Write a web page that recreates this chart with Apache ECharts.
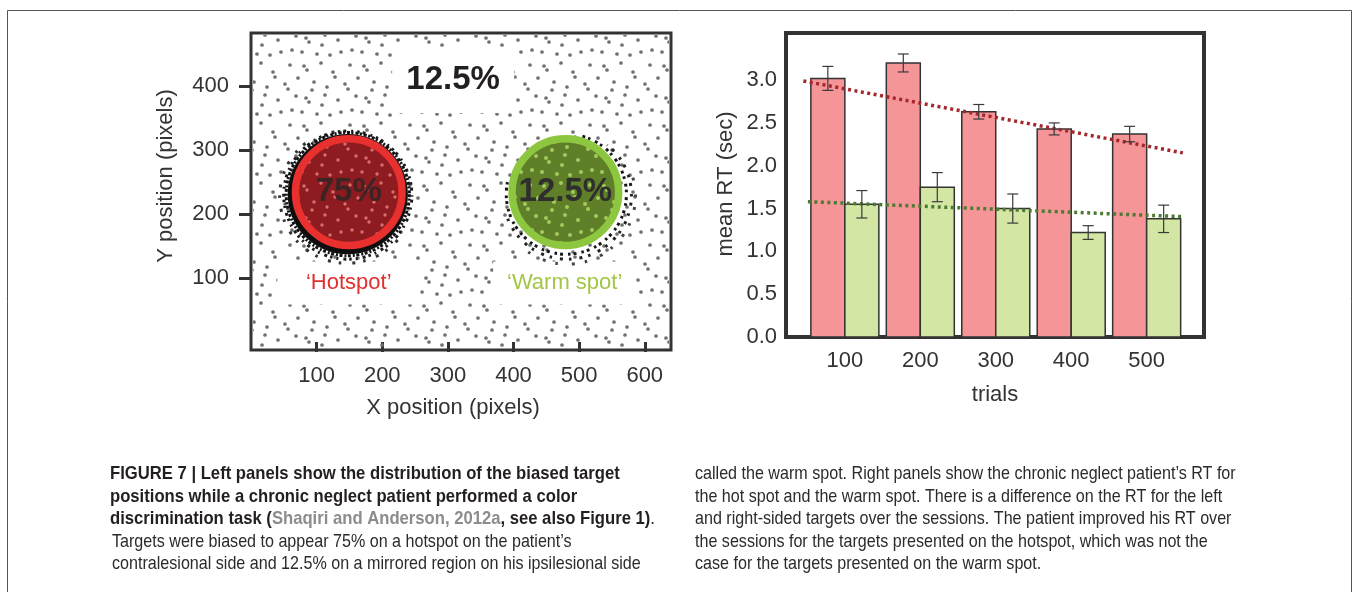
<!DOCTYPE html>
<html>
<head>
<meta charset="utf-8">
<script src="https://cdn.jsdelivr.net/npm/echarts@6/dist/echarts.min.js"></script>
<style>
  html, body { margin: 0; padding: 0; background: #fff; }
  #chart { width: 1356px; height: 592px; }
</style>
</head>
<body>
<div id="chart"></div>
<script>
// ---- left panel: target positions ----
const posXTicks = [100, 200, 300, 400, 500, 600];
const posYTicks = [100, 200, 300, 400];
const spotNames = ['Hotspot', 'Warm spot'];
const spotX = [149, 479];
const spotY = [234, 234];
const spotShare = ['75%', '12.5%'];
const spotRadius = 87; // in x pixels of the task screen
const regionLabels = ['12.5%', '\u2018Hotspot\u2019', '\u2018Warm spot\u2019'];
const regionLabelX = [308, 149, 478];
const regionLabelY = [409, 92, 92];

// ---- right panel: mean RT ----
const trials = [100, 200, 300, 400, 500];
const hotRT = [3.02, 3.20, 2.63, 2.43, 2.37];
const hotErr = [0.14, 0.105, 0.085, 0.07, 0.09];
const warmRT = [1.55, 1.75, 1.50, 1.22, 1.38];
const warmErr = [0.16, 0.17, 0.17, 0.08, 0.16];
const hotTrend = [[45, 2.99], [548, 2.15]];
const warmTrend = [[51, 1.58], [548, 1.405]];
const rtTicks = [0, 0.5, 1, 1.5, 2, 2.5, 3];

const FONT = "'Liberation Sans', Arial, sans-serif";
const barPx = 34;

// small dotted texture for the dense scatter of target positions
const tileDots = [[4, 6], [7, 10], [21, 3], [33, 12], [35, 17], [50, 5], [14, 22], [27, 27],
  [45, 24], [48, 29], [56, 36], [6, 38], [9, 42], [22, 45], [38, 40], [41, 52], [52, 50],
  [30, 55], [17, 54], [2, 52], [58, 18], [25, 35], [12, 30]];

function dotPattern(color, radius) {
  const c = document.createElement('canvas');
  c.width = 60;
  c.height = 60;
  const ctx = c.getContext('2d');
  ctx.fillStyle = color;
  tileDots.forEach(([x, y]) => {
    ctx.beginPath();
    ctx.arc(x, y, radius, 0, Math.PI * 2);
    ctx.fill();
  });
  return { image: c, repeat: 'repeat' };
}

const greyDots = dotPattern('#707070', 1.85);
const spotFill = ['#8e1b1f', '#5f7f28'];
const spotSpeckle = [dotPattern('rgba(236,140,140,0.75)', 1.7), dotPattern('rgba(180,220,105,0.8)', 2)];
const spotRing = ['#e8302f', '#8dc63f'];
const spotText = ['#3d2424', '#2e2e2e'];

// rows of small square dots around a spot (dense cluster of targets)
function dotRing(cx, cy, r, a0, a1, dash, offset, color) {
  return {
    type: 'arc',
    shape: { cx, cy, r, startAngle: a0, endAngle: a1, clockwise: true },
    style: { fill: 'none', stroke: color, lineWidth: 3, lineDash: dash, lineDashOffset: offset, lineCap: 'butt' }
  };
}

function barSeries(name, values, side, color) {
  return {
    type: 'custom',
    name,
    xAxisIndex: 1,
    yAxisIndex: 1,
    data: trials.map((t, i) => [t, values[i]]),
    renderItem: (params, api) => {
      const top = api.coord([api.value(0), api.value(1)]);
      const base = api.coord([api.value(0), 0]);
      const x = side < 0 ? top[0] - barPx : top[0];
      return {
        type: 'rect',
        shape: { x, y: top[1], width: barPx, height: base[1] - top[1] },
        style: { fill: color, stroke: '#333', lineWidth: 1.5 }
      };
    }
  };
}

function errSeries(values, errs, side) {
  return {
    type: 'custom',
    xAxisIndex: 1,
    yAxisIndex: 1,
    z: 5,
    data: trials.map((t, i) => [t, values[i] - errs[i], values[i] + errs[i]]),
    renderItem: (params, api) => {
      const lo = api.coord([api.value(0), api.value(1)]);
      const hi = api.coord([api.value(0), api.value(2)]);
      const cx = lo[0] + side * barPx / 2;
      const st = { stroke: '#3a3a3a', lineWidth: 1.2 };
      return {
        type: 'group',
        children: [
          { type: 'line', shape: { x1: cx, y1: lo[1], x2: cx, y2: hi[1] }, style: st },
          { type: 'line', shape: { x1: cx - 5.5, y1: hi[1], x2: cx + 5.5, y2: hi[1] }, style: st },
          { type: 'line', shape: { x1: cx - 5.5, y1: lo[1], x2: cx + 5.5, y2: lo[1] }, style: st }
        ]
      };
    }
  };
}

function trendSeries(data, color) {
  return {
    type: 'line',
    xAxisIndex: 1,
    yAxisIndex: 1,
    z: 4,
    data,
    symbol: 'none',
    lineStyle: { color, width: 3.5, type: [3, 3.5], cap: 'butt' }
  };
}

function captionText(x, y, text, bold) {
  return {
    type: 'text',
    x, y,
    scaleX: bold ? 0.9 : 0.87,
    style: {
      text,
      font: (bold ? 'bold ' : '') + '18.5px ' + FONT,
      fill: bold ? '#231f20' : '#2b2b2b',
      verticalAlign: 'middle',
      rich: {
        g: { fontWeight: 'bold', fontSize: 18.5, fontFamily: FONT, fill: '#8c8c8c' },
        r: { fontWeight: 'normal', fontSize: 18.5, fontFamily: FONT, fill: '#231f20' }
      }
    }
  };
}

const capY = [474, 496.5, 519, 541.5, 564];

const option = {
  animation: false,
  backgroundColor: '#fff',
  textStyle: { fontFamily: FONT },
  grid: [
    { left: 251, top: 33, width: 420, height: 317, show: true, borderColor: '#333', borderWidth: 3, backgroundColor: 'transparent' },
    { left: 786, top: 33, width: 418, height: 304, show: true, borderColor: '#333', borderWidth: 4, backgroundColor: 'transparent' }
  ],
  xAxis: [
    {
      type: 'value', gridIndex: 0, min: 0, max: 640,
      axisLine: { show: false },
      splitLine: { show: false },
      axisTick: { show: true, length: 10, customValues: posXTicks, lineStyle: { color: '#333', width: 3 } },
      axisLabel: { customValues: posXTicks, margin: 15, fontSize: 22, color: '#333', fontFamily: FONT }
    },
    {
      type: 'value', gridIndex: 1, min: 22, max: 576,
      axisLine: { show: false },
      splitLine: { show: false },
      axisTick: { show: false },
      axisLabel: { customValues: trials, margin: 13, fontSize: 22, color: '#333', fontFamily: FONT }
    }
  ],
  yAxis: [
    {
      type: 'value', gridIndex: 0, min: -12.5, max: 482.5,
      axisLine: { show: false },
      splitLine: { show: false },
      axisTick: { show: true, length: 12, customValues: posYTicks, lineStyle: { color: '#333', width: 3 } },
      axisLabel: { customValues: posYTicks, margin: 22, fontSize: 22, color: '#333', fontFamily: FONT }
    },
    {
      type: 'value', gridIndex: 1, min: 0, max: 3.55,
      axisLine: { show: false },
      splitLine: { show: false },
      axisTick: { show: false },
      axisLabel: {
        customValues: rtTicks, margin: 9, fontSize: 22, color: '#333', fontFamily: FONT,
        formatter: v => v.toFixed(1)
      }
    }
  ],
  series: [
    // scatter of target positions (texture)
    {
      type: 'custom', xAxisIndex: 0, yAxisIndex: 0, silent: true, z: 1,
      data: [[0, 0]],
      renderItem: (params) => {
        const cs = params.coordSys;
        return {
          type: 'rect',
          shape: { x: cs.x + 2, y: cs.y + 2, width: cs.width - 4, height: cs.height - 4 },
          style: { fill: greyDots }
        };
      }
    },
    // region labels with white boxes
    {
      type: 'custom', xAxisIndex: 0, yAxisIndex: 0, z: 2,
      data: regionLabels.map((t, i) => [regionLabelX[i], regionLabelY[i]]),
      renderItem: (params, api) => {
        const i = params.dataIndex;
        const p = api.coord([api.value(0), api.value(1)]);
        const big = i === 0;
        const w = big ? 122 : 143;
        const h = big ? 66 : 43;
        const colors = ['#231f20', '#e0302f', '#a3c646'];
        return {
          type: 'group',
          children: [
            { type: 'rect', shape: { x: p[0] - w / 2, y: p[1] - h / 2, width: w, height: h }, style: { fill: '#fff' } },
            {
              type: 'text', x: p[0], y: p[1],
              style: {
                text: regionLabels[i],
                font: (big ? 'bold 33px ' : '22px ') + FONT,
                fill: colors[i], align: 'center', verticalAlign: 'middle'
              }
            }
          ]
        };
      }
    },
    // hotspot / warm spot circles
    {
      type: 'custom', name: 'spots', xAxisIndex: 0, yAxisIndex: 0, z: 3,
      data: spotNames.map((n, i) => [spotX[i], spotY[i]]),
      renderItem: (params, api) => {
        const i = params.dataIndex;
        const c = api.coord([api.value(0), api.value(1)]);
        const r = api.size([spotRadius, 0])[0];
        const full = Math.PI * 2;
        const halo = i === 0
          ? [
              { type: 'circle', shape: { cx: c[0] - 1, cy: c[1] + 2, r: r + 3 }, style: { fill: '#0d0d0d' } },
              dotRing(c[0] - 1, c[1] + 2, r + 4.5, 0, full, [3, 1.5, 2, 2], 0, '#111'),
              dotRing(c[0] - 1, c[1] + 3, r + 7, 0, full, [2.5, 3, 3, 5, 2, 4], 1, '#1a1a1a'),
              dotRing(c[0] - 2, c[1] + 4, r + 10, 0.6, 4.2, [2.5, 8, 3, 11], 3, '#333')
            ]
          : [
              dotRing(c[0] + 1, c[1] + 2, r + 3, -1.3, 3.4, [3, 3, 2.5, 5], 0, '#161616'),
              dotRing(c[0] + 2, c[1] + 3, r + 7, -0.9, 2.8, [2.5, 6, 3, 8], 2, '#222'),
              dotRing(c[0] + 2, c[1] + 4, r + 11, -0.4, 2.2, [2.5, 10, 3, 14], 4, '#444')
            ];
        return {
          type: 'group',
          children: halo.concat([
            { type: 'circle', shape: { cx: c[0], cy: c[1], r: r - 2 }, style: { fill: spotFill[i] } },
            { type: 'circle', shape: { cx: c[0], cy: c[1], r: r - 2 }, style: { fill: spotSpeckle[i] } },
            { type: 'circle', shape: { cx: c[0], cy: c[1], r: r - 3.8 }, style: { fill: 'none', stroke: spotRing[i], lineWidth: 7.5 } },
            {
              type: 'text', x: c[0], y: c[1],
              style: { text: spotShare[i], font: 'bold 33px ' + FONT, fill: spotText[i], align: 'center', verticalAlign: 'middle' }
            }
          ])
        };
      }
    },
    barSeries('Hotspot', hotRT, -1, '#f59597'),
    barSeries('Warm spot', warmRT, 1, '#d4e6a3'),
    trendSeries(hotTrend, '#a3272b'),
    trendSeries(warmTrend, '#4d7a32'),
    errSeries(hotRT, hotErr, -1),
    errSeries(warmRT, warmErr, 1)
  ],
  graphic: [
    // figure frame
    {
      type: 'polyline',
      shape: { points: [[7.5, 592], [7.5, 10.5], [1351.5, 10.5], [1351.5, 592]] },
      style: { stroke: '#555', lineWidth: 1, fill: 'none' }
    },
    // axis titles
    {
      type: 'text', x: 166, y: 176, rotation: Math.PI / 2,
      style: { text: 'Y position (pixels)', font: '22px ' + FONT, fill: '#333', align: 'center', verticalAlign: 'middle' }
    },
    {
      type: 'text', x: 453, y: 408,
      style: { text: 'X position (pixels)', font: '22px ' + FONT, fill: '#333', align: 'center', verticalAlign: 'middle' }
    },
    {
      type: 'text', x: 726, y: 184, rotation: Math.PI / 2,
      style: { text: 'mean RT (sec)', font: '22px ' + FONT, fill: '#333', align: 'center', verticalAlign: 'middle' }
    },
    {
      type: 'text', x: 995, y: 395,
      style: { text: 'trials', font: '22px ' + FONT, fill: '#333', align: 'center', verticalAlign: 'middle' }
    },
    // caption, left column
    captionText(110, capY[0], 'FIGURE 7 | Left panels show the distribution of the biased target', true),
    captionText(110, capY[1], 'positions while a chronic neglect patient performed a color', true),
    captionText(110, capY[2], 'discrimination task ({g|Shaqiri and Anderson, 2012a}, see also Figure 1){r|.}', true),
    captionText(112, capY[3], 'Targets were biased to appear 75% on a hotspot on the patient\u2019s', false),
    captionText(112, capY[4], 'contralesional side and 12.5% on a mirrored region on his ipsilesional side', false),
    // caption, right column
    captionText(695, capY[0], 'called the warm spot. Right panels show the chronic neglect patient\u2019s RT for', false),
    captionText(695, capY[1], 'the hot spot and the warm spot. There is a difference on the RT for the left', false),
    captionText(695, capY[2], 'and right-sided targets over the sessions. The patient improved his RT over', false),
    captionText(695, capY[3], 'the sessions for the targets presented on the hotspot, which was not the', false),
    captionText(695, capY[4], 'case for the targets presented on the warm spot.', false)
  ]
};

const chart = echarts.init(document.getElementById('chart'));
chart.setOption(option);
window.addEventListener('resize', () => chart.resize());
</script>
</body>
</html>
